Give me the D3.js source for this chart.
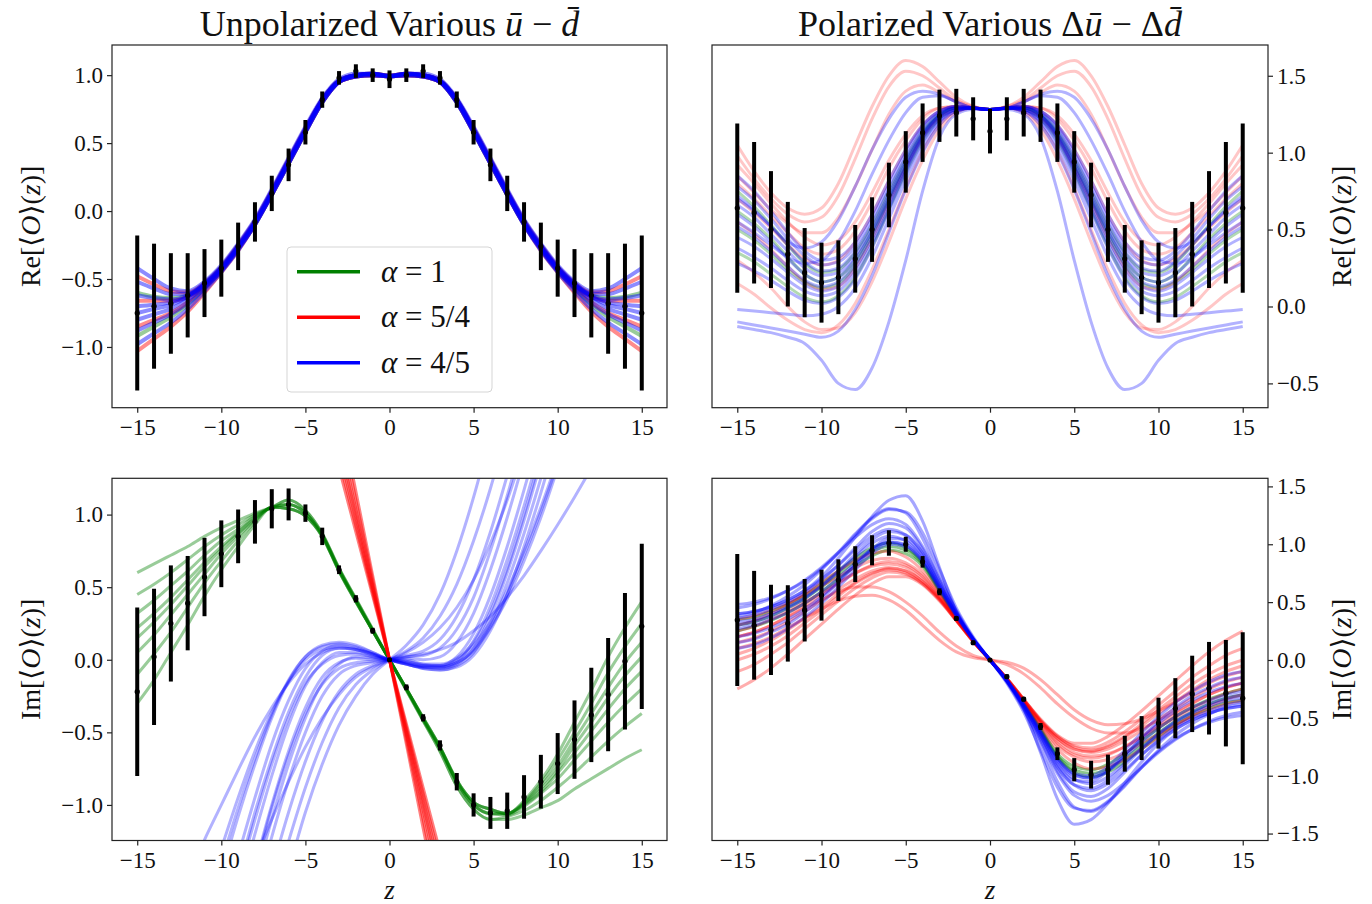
<!DOCTYPE html>
<html><head><meta charset="utf-8">
<script src="https://cdn.jsdelivr.net/npm/d3@7"></script>
<style>
body{margin:0;background:#fff;}
svg{display:block;}
</style></head><body>
<svg id="chart" width="1372" height="904"></svg>
<script>
const n = null;
const zValues = [-15,-14,-13,-12,-11,-10,-9,-8,-7,-6,-5,-4,-3,-2,-1,0,1,2,3,4,5,6,7,8,9,10,11,12,13,14,15];
const zRedSteep = [-4,-3,-2,-1,0,1,2,3,4];
const xTickValues = [-15,-10,-5,0,5,10,15];
const yTicksReUnpol = [-1.0,-0.5,0.0,0.5,1.0];
const yTicksRePol = [-0.5,0.0,0.5,1.0,1.5];
const yTicksImUnpol = [-1.0,-0.5,0.0,0.5,1.0];
const yTicksImPol = [-1.5,-1.0,-0.5,0.0,0.5,1.0,1.5];
const legendLabels = ["1","5/4","4/5"];

// ---------- Top-left: Re, unpolarized ----------
const reUnpolCenter = [-0.75,-0.70,-0.68,-0.62,-0.53,-0.42,-0.26,-0.08,0.13,0.34,0.58,0.82,0.98,1.03,1.00,0.97,1.00,1.03,0.98,0.82,0.58,0.34,0.13,-0.08,-0.26,-0.42,-0.53,-0.62,-0.68,-0.70,-0.75];
const reUnpolErr = [0.57,0.46,0.37,0.31,0.25,0.21,0.175,0.145,0.13,0.12,0.09,0.06,0.05,0.05,0.05,0.065,0.05,0.05,0.05,0.06,0.09,0.12,0.13,0.145,0.175,0.21,0.25,0.31,0.37,0.46,0.57];
const reUnpolGreen = [
[-0.60,-0.63,-0.64,-0.62,-0.54,-0.42,-0.26,-0.08,0.14,0.37,0.60,0.82,0.96,1.00,1.01,0.995,1.01,1.00,0.96,0.82,0.60,0.37,0.14,-0.08,-0.26,-0.42,-0.54,-0.62,-0.64,-0.63,-0.60],
[-0.92,-0.85,-0.78,-0.69,-0.57,-0.44,-0.28,-0.10,0.12,0.35,0.58,0.80,0.95,0.99,1.00,0.99,1.00,0.99,0.95,0.80,0.58,0.35,0.12,-0.10,-0.28,-0.44,-0.57,-0.69,-0.78,-0.85,-0.92]];
const reUnpolRed = [
[-0.48,-0.54,-0.59,-0.60,-0.53,-0.41,-0.25,-0.07,0.15,0.38,0.61,0.82,0.96,1.00,1.01,0.995,1.01,1.00,0.96,0.82,0.61,0.38,0.15,-0.07,-0.25,-0.41,-0.53,-0.60,-0.59,-0.54,-0.48],
[-0.66,-0.66,-0.66,-0.63,-0.55,-0.42,-0.26,-0.08,0.14,0.37,0.60,0.82,0.96,1.00,1.01,0.995,1.01,1.00,0.96,0.82,0.60,0.37,0.14,-0.08,-0.26,-0.42,-0.55,-0.63,-0.66,-0.66,-0.66],
[-0.85,-0.80,-0.75,-0.67,-0.56,-0.43,-0.27,-0.09,0.13,0.36,0.59,0.81,0.95,0.99,1.00,0.99,1.00,0.99,0.95,0.81,0.59,0.36,0.13,-0.09,-0.27,-0.43,-0.56,-0.67,-0.75,-0.80,-0.85],
[-1.03,-0.94,-0.85,-0.74,-0.60,-0.45,-0.29,-0.10,0.12,0.35,0.58,0.80,0.95,0.99,1.00,0.99,1.00,0.99,0.95,0.80,0.58,0.35,0.12,-0.10,-0.29,-0.45,-0.60,-0.74,-0.85,-0.94,-1.03]];
const reUnpolBlue = [
[-0.42,-0.50,-0.57,-0.59,-0.52,-0.40,-0.24,-0.06,0.16,0.39,0.62,0.83,0.97,1.01,1.01,0.995,1.01,1.01,0.97,0.83,0.62,0.39,0.16,-0.06,-0.24,-0.40,-0.52,-0.59,-0.57,-0.50,-0.42],
[-0.52,-0.57,-0.61,-0.61,-0.53,-0.41,-0.25,-0.07,0.15,0.38,0.61,0.82,0.96,1.00,1.01,0.995,1.01,1.00,0.96,0.82,0.61,0.38,0.15,-0.07,-0.25,-0.41,-0.53,-0.61,-0.61,-0.57,-0.52],
[-0.62,-0.64,-0.65,-0.62,-0.54,-0.42,-0.26,-0.08,0.14,0.37,0.60,0.82,0.96,1.00,1.01,0.99,1.01,1.00,0.96,0.82,0.60,0.37,0.14,-0.08,-0.26,-0.42,-0.54,-0.62,-0.65,-0.64,-0.62],
[-0.70,-0.69,-0.67,-0.63,-0.55,-0.43,-0.27,-0.09,0.13,0.36,0.59,0.81,0.95,1.00,1.01,0.99,1.01,1.00,0.95,0.81,0.59,0.36,0.13,-0.09,-0.27,-0.43,-0.55,-0.63,-0.67,-0.69,-0.70],
[-0.75,-0.72,-0.69,-0.63,-0.54,-0.42,-0.26,-0.08,0.14,0.37,0.60,0.82,0.96,1.00,1.01,0.995,1.01,1.00,0.96,0.82,0.60,0.37,0.14,-0.08,-0.26,-0.42,-0.54,-0.63,-0.69,-0.72,-0.75],
[-0.80,-0.76,-0.72,-0.65,-0.56,-0.44,-0.28,-0.10,0.12,0.35,0.58,0.80,0.95,0.99,1.00,0.99,1.00,0.99,0.95,0.80,0.58,0.35,0.12,-0.10,-0.28,-0.44,-0.56,-0.65,-0.72,-0.76,-0.80],
[-0.88,-0.82,-0.76,-0.68,-0.57,-0.44,-0.28,-0.10,0.12,0.35,0.58,0.80,0.95,0.99,1.00,0.99,1.00,0.99,0.95,0.80,0.58,0.35,0.12,-0.10,-0.28,-0.44,-0.57,-0.68,-0.76,-0.82,-0.88],
[-0.98,-0.90,-0.82,-0.72,-0.59,-0.45,-0.29,-0.10,0.12,0.35,0.58,0.80,0.95,0.99,1.00,0.99,1.00,0.99,0.95,0.80,0.58,0.35,0.12,-0.10,-0.29,-0.45,-0.59,-0.72,-0.82,-0.90,-0.98]];

// ---------- Top-right: Re, polarized ----------
const rePolCenter = [0.64,0.61,0.50,0.34,0.22,0.155,0.19,0.31,0.50,0.725,0.94,1.13,1.24,1.26,1.22,1.14,1.22,1.26,1.24,1.13,0.94,0.725,0.50,0.31,0.19,0.155,0.22,0.34,0.50,0.61,0.64];
const rePolErr = [0.55,0.46,0.38,0.34,0.29,0.26,0.24,0.22,0.21,0.21,0.20,0.19,0.17,0.155,0.14,0.145,0.14,0.155,0.17,0.19,0.20,0.21,0.21,0.22,0.24,0.26,0.29,0.34,0.38,0.46,0.55];
const rePolGreen = [
[0.75,0.65,0.53,0.40,0.28,0.22,0.24,0.35,0.53,0.75,0.96,1.14,1.25,1.29,1.29,1.28,1.29,1.29,1.25,1.14,0.96,0.75,0.53,0.35,0.24,0.22,0.28,0.40,0.53,0.65,0.75],
[0.62,0.54,0.44,0.32,0.21,0.16,0.19,0.30,0.49,0.71,0.93,1.12,1.24,1.29,1.29,1.28,1.29,1.29,1.24,1.12,0.93,0.71,0.49,0.30,0.19,0.16,0.21,0.32,0.44,0.54,0.62],
[0.50,0.43,0.34,0.24,0.16,0.12,0.15,0.27,0.46,0.69,0.91,1.11,1.24,1.29,1.29,1.28,1.29,1.29,1.24,1.11,0.91,0.69,0.46,0.27,0.15,0.12,0.16,0.24,0.34,0.43,0.50],
[0.35,0.29,0.21,0.13,0.06,0.03,0.07,0.19,0.39,0.63,0.87,1.08,1.22,1.28,1.29,1.28,1.29,1.28,1.22,1.08,0.87,0.63,0.39,0.19,0.07,0.03,0.06,0.13,0.21,0.29,0.35]];
const rePolRed = [
[1.05,0.88,0.74,0.64,0.60,0.64,0.80,1.05,1.30,1.50,1.60,1.56,1.46,1.36,1.30,1.28,1.30,1.36,1.46,1.56,1.60,1.50,1.30,1.05,0.80,0.64,0.60,0.64,0.74,0.88,1.05],
[0.98,0.83,0.70,0.60,0.55,0.58,0.72,0.96,1.22,1.43,1.53,1.50,1.42,1.34,1.30,1.28,1.30,1.34,1.42,1.50,1.53,1.43,1.22,0.96,0.72,0.58,0.55,0.60,0.70,0.83,0.98],
[0.85,0.74,0.63,0.54,0.48,0.48,0.58,0.78,1.02,1.25,1.40,1.44,1.39,1.33,1.29,1.28,1.29,1.33,1.39,1.44,1.40,1.25,1.02,0.78,0.58,0.48,0.48,0.54,0.63,0.74,0.85],
[0.92,0.80,0.67,0.55,0.45,0.40,0.43,0.55,0.74,0.95,1.12,1.24,1.29,1.30,1.29,1.28,1.29,1.30,1.29,1.24,1.12,0.95,0.74,0.55,0.43,0.40,0.45,0.55,0.67,0.80,0.92],
[0.80,0.70,0.59,0.48,0.38,0.34,0.37,0.49,0.68,0.90,1.08,1.22,1.29,1.30,1.29,1.28,1.29,1.30,1.29,1.22,1.08,0.90,0.68,0.49,0.37,0.34,0.38,0.48,0.59,0.70,0.80],
[0.70,0.61,0.51,0.40,0.31,0.27,0.30,0.42,0.60,0.82,1.02,1.18,1.27,1.30,1.29,1.28,1.29,1.30,1.27,1.18,1.02,0.82,0.60,0.42,0.30,0.27,0.31,0.40,0.51,0.61,0.70],
[0.55,0.47,0.37,0.26,0.16,0.11,0.13,0.25,0.44,0.67,0.90,1.10,1.23,1.28,1.29,1.28,1.29,1.28,1.23,1.10,0.90,0.67,0.44,0.25,0.13,0.11,0.16,0.26,0.37,0.47,0.55],
[0.30,0.22,0.12,0.00,-0.10,-0.15,-0.14,-0.04,0.16,0.42,0.70,0.95,1.15,1.26,1.29,1.28,1.29,1.26,1.15,0.95,0.70,0.42,0.16,-0.04,-0.14,-0.15,-0.10,0.00,0.12,0.22,0.30],
[0.15,0.08,-0.01,-0.09,-0.15,-0.17,-0.12,0.02,0.24,0.50,0.77,1.01,1.18,1.27,1.29,1.28,1.29,1.27,1.18,1.01,0.77,0.50,0.24,0.02,-0.12,-0.17,-0.15,-0.09,-0.01,0.08,0.15]];
const rePolBlue = [
[0.85,0.75,0.62,0.48,0.36,0.30,0.32,0.42,0.60,0.82,1.02,1.18,1.27,1.30,1.29,1.28,1.29,1.30,1.27,1.18,1.02,0.82,0.60,0.42,0.32,0.30,0.36,0.48,0.62,0.75,0.85],
[0.78,0.69,0.57,0.44,0.33,0.27,0.29,0.39,0.57,0.79,1.00,1.17,1.27,1.30,1.29,1.28,1.29,1.30,1.27,1.17,1.00,0.79,0.57,0.39,0.29,0.27,0.33,0.44,0.57,0.69,0.78],
[0.72,0.63,0.52,0.40,0.29,0.23,0.25,0.36,0.54,0.76,0.97,1.15,1.26,1.30,1.29,1.28,1.29,1.30,1.26,1.15,0.97,0.76,0.54,0.36,0.25,0.23,0.29,0.40,0.52,0.63,0.72],
[0.66,0.58,0.47,0.36,0.25,0.20,0.22,0.33,0.51,0.73,0.95,1.13,1.25,1.29,1.29,1.28,1.29,1.29,1.25,1.13,0.95,0.73,0.51,0.33,0.22,0.20,0.25,0.36,0.47,0.58,0.66],
[0.60,0.52,0.42,0.31,0.21,0.16,0.19,0.31,0.49,0.71,0.93,1.12,1.24,1.29,1.29,1.28,1.29,1.29,1.24,1.12,0.93,0.71,0.49,0.31,0.19,0.16,0.21,0.31,0.42,0.52,0.60],
[0.52,0.45,0.36,0.26,0.17,0.13,0.16,0.28,0.47,0.69,0.91,1.11,1.24,1.29,1.29,1.28,1.29,1.29,1.24,1.11,0.91,0.69,0.47,0.28,0.16,0.13,0.17,0.26,0.36,0.45,0.52],
[0.45,0.39,0.31,0.22,0.14,0.10,0.13,0.25,0.44,0.67,0.90,1.10,1.23,1.28,1.29,1.28,1.29,1.28,1.23,1.10,0.90,0.67,0.44,0.25,0.13,0.10,0.14,0.22,0.31,0.39,0.45],
[0.38,0.32,0.25,0.17,0.10,0.07,0.10,0.22,0.41,0.64,0.88,1.09,1.22,1.28,1.29,1.28,1.29,1.28,1.22,1.09,0.88,0.64,0.41,0.22,0.10,0.07,0.10,0.17,0.25,0.32,0.38],
[0.28,0.23,0.17,0.10,0.04,0.02,0.06,0.18,0.38,0.62,0.86,1.07,1.21,1.28,1.29,1.28,1.29,1.28,1.21,1.07,0.86,0.62,0.38,0.18,0.06,0.02,0.04,0.10,0.17,0.23,0.28],
[-0.02,-0.03,-0.04,-0.05,-0.06,-0.05,0.00,0.12,0.32,0.57,0.82,1.04,1.20,1.27,1.29,1.28,1.29,1.27,1.20,1.04,0.82,0.57,0.32,0.12,0.00,-0.05,-0.06,-0.05,-0.04,-0.03,-0.02],
[-0.10,-0.12,-0.14,-0.16,-0.18,-0.20,-0.16,-0.02,0.20,0.48,0.76,1.00,1.18,1.27,1.29,1.28,1.29,1.27,1.18,1.00,0.76,0.48,0.20,-0.02,-0.16,-0.20,-0.18,-0.16,-0.14,-0.12,-0.10],
[-0.13,-0.15,-0.17,-0.20,-0.24,-0.35,-0.50,-0.54,-0.40,-0.10,0.30,0.75,1.10,1.25,1.28,1.28,1.28,1.25,1.10,0.75,0.30,-0.10,-0.40,-0.54,-0.50,-0.35,-0.24,-0.20,-0.17,-0.15,-0.13],
[0.70,0.62,0.52,0.42,0.38,0.42,0.56,0.78,1.02,1.22,1.36,1.40,1.38,1.33,1.29,1.28,1.29,1.33,1.38,1.40,1.36,1.22,1.02,0.78,0.56,0.42,0.38,0.42,0.52,0.62,0.70],
[0.55,0.48,0.40,0.32,0.28,0.30,0.42,0.62,0.86,1.08,1.26,1.36,1.37,1.33,1.29,1.28,1.29,1.33,1.37,1.36,1.26,1.08,0.86,0.62,0.42,0.30,0.28,0.32,0.40,0.48,0.55]];

// ---------- Bottom-left: Im, unpolarized ----------
const imUnpolCenter = [-0.22,0.02,0.25,0.39,0.57,0.73,0.85,0.95,1.04,1.07,1.01,0.85,0.62,0.42,0.20,0.00,-0.19,-0.40,-0.59,-0.84,-1.00,-1.055,-1.04,-0.945,-0.84,-0.715,-0.55,-0.38,-0.24,-0.01,0.23];
const imUnpolErr = [0.58,0.47,0.40,0.325,0.27,0.23,0.185,0.15,0.135,0.11,0.06,0.06,0.03,0.025,0.02,0.01,0.02,0.025,0.035,0.06,0.08,0.11,0.125,0.15,0.185,0.21,0.27,0.325,0.39,0.47,0.57];
const imUnpolGreen = [
[0.60,0.66,0.72,0.78,0.85,0.91,0.96,1.01,1.05,1.10,1.03,0.87,0.63,0.42,0.21,0,-0.21,-0.42,-0.63,-0.87,-1.03,-1.10,-1.10,-1.07,-1.02,-0.97,-0.89,-0.82,-0.75,-0.68,-0.62],
[0.45,0.52,0.60,0.69,0.78,0.86,0.93,1.00,1.05,1.10,1.03,0.87,0.63,0.42,0.21,0,-0.21,-0.42,-0.63,-0.87,-1.03,-1.10,-1.08,-1.04,-0.97,-0.88,-0.78,-0.67,-0.56,-0.46,-0.37],
[0.32,0.41,0.51,0.61,0.72,0.82,0.90,0.99,1.05,1.07,1.01,0.86,0.62,0.41,0.20,0,-0.20,-0.41,-0.61,-0.84,-1.00,-1.06,-1.07,-1.01,-0.92,-0.82,-0.69,-0.56,-0.43,-0.31,-0.20],
[0.22,0.32,0.43,0.55,0.67,0.78,0.88,0.98,1.05,1.07,1.01,0.86,0.62,0.41,0.20,0,-0.20,-0.41,-0.61,-0.84,-1.00,-1.06,-1.06,-1.00,-0.91,-0.78,-0.64,-0.49,-0.34,-0.20,-0.08],
[0.15,0.26,0.38,0.51,0.64,0.76,0.87,0.97,1.05,1.07,1.01,0.86,0.62,0.41,0.20,0,-0.20,-0.41,-0.61,-0.84,-1.00,-1.06,-1.06,-0.99,-0.89,-0.76,-0.59,-0.43,-0.26,-0.11,0.02],
[0.05,0.17,0.31,0.45,0.59,0.73,0.85,0.96,1.05,1.04,0.99,0.85,0.61,0.40,0.20,0,-0.20,-0.40,-0.60,-0.83,-0.98,-1.03,-1.06,-0.99,-0.87,-0.73,-0.55,-0.37,-0.19,-0.02,0.12],
[-0.10,0.04,0.19,0.36,0.53,0.68,0.82,0.95,1.05,1.04,0.99,0.85,0.61,0.40,0.20,0,-0.20,-0.40,-0.60,-0.83,-0.98,-1.03,-1.06,-0.98,-0.85,-0.69,-0.50,-0.30,-0.09,0.09,0.25],
[-0.30,-0.14,0.05,0.24,0.44,0.62,0.78,0.93,1.05,1.04,0.99,0.85,0.61,0.40,0.20,0,-0.20,-0.40,-0.60,-0.83,-0.98,-1.03,-1.06,-0.97,-0.83,-0.65,-0.43,-0.21,0.02,0.22,0.40]];
const imUnpolRed = [
[1.76,1.32,0.88,0.44,0,-0.44,-0.88,-1.32,-1.76],
[1.84,1.38,0.92,0.46,0,-0.46,-0.92,-1.38,-1.84],
[1.92,1.44,0.96,0.48,0,-0.48,-0.96,-1.44,-1.92],
[2.00,1.50,1.00,0.50,0,-0.50,-1.00,-1.50,-2.00],
[2.08,1.56,1.04,0.52,0,-0.52,-1.04,-1.56,-2.08],
[2.20,1.65,1.10,0.55,0,-0.55,-1.10,-1.65,-2.20],
[2.32,1.74,1.16,0.58,0,-0.58,-1.16,-1.74,-2.32]];
const imUnpolBlue = [
[n,n,n,n,n,n,n,n,n,-1.45,-1.05,-0.72,-0.45,-0.25,-0.10,0,0.10,0.24,0.45,0.75,1.12,1.55,n,n,n,n,n,n,n,n,n],
[n,n,n,n,n,n,n,n,-1.65,-1.25,-0.88,-0.57,-0.33,-0.17,-0.07,0,0.06,0.15,0.30,0.52,0.82,1.18,1.60,n,n,n,n,n,n,n,n],
[n,n,n,n,n,n,n,n,-1.45,-1.05,-0.70,-0.42,-0.22,-0.10,-0.04,0,0.03,0.06,0.14,0.30,0.55,0.88,1.27,n,n,n,n,n,n,n,n],
[n,n,n,n,n,n,n,-1.45,-1.02,-0.66,-0.37,-0.17,-0.06,-0.02,-0.01,0,0.02,0.03,0.08,0.21,0.43,0.75,1.13,1.55,n,n,n,n,n,n,n],
[n,n,n,n,n,n,n,-1.65,-1.22,-0.83,-0.50,-0.25,-0.10,-0.04,-0.02,0,0.01,0.00,0.02,0.12,0.32,0.62,0.98,1.38,n,n,n,n,n,n,n],
[n,n,n,n,n,n,n,-1.42,-1.00,-0.63,-0.33,-0.12,-0.02,0.01,0.00,0,0.00,-0.03,-0.04,0.02,0.18,0.44,0.78,1.17,1.58,n,n,n,n,n,n],
[n,n,n,n,n,n,n,-1.52,-1.10,-0.72,-0.40,-0.16,-0.03,0.02,0.01,0,-0.01,-0.04,-0.05,-0.01,0.13,0.37,0.69,1.06,1.46,n,n,n,n,n,n],
[n,n,n,n,n,n,-1.62,-1.20,-0.80,-0.45,-0.18,-0.02,0.05,0.05,0.02,0,-0.02,-0.05,-0.06,-0.03,0.08,0.30,0.60,0.96,1.36,n,n,n,n,n,n],
[n,n,n,n,n,n,-1.48,-1.05,-0.68,-0.36,-0.12,0.03,0.08,0.07,0.03,0,-0.03,-0.06,-0.07,-0.04,0.05,0.25,0.53,0.87,1.25,n,n,n,n,n,n],
[n,n,n,n,n,n,-1.35,-0.95,-0.58,-0.28,-0.06,0.06,0.10,0.08,0.04,0,-0.03,-0.06,-0.07,-0.05,0.03,0.20,0.45,0.78,1.15,1.55,n,n,n,n,n],
[n,n,n,n,n,-1.40,-1.02,-0.68,-0.38,-0.14,0.02,0.09,0.11,0.09,0.05,0,-0.03,-0.05,-0.05,-0.02,0.07,0.23,0.45,0.72,1.02,1.35,n,n,n,n,n],
[n,n,n,n,n,-1.48,-1.08,-0.72,-0.40,-0.15,0.02,0.10,0.12,0.10,0.05,0,-0.02,-0.04,-0.04,0.00,0.10,0.26,0.48,0.75,1.05,1.38,n,n,n,n,n],
[n,n,n,-1.50,-1.24,-1.00,-0.76,-0.53,-0.33,-0.16,-0.03,0.05,0.08,0.07,0.04,0,0.02,0.04,0.07,0.12,0.20,0.30,0.43,0.58,0.75,0.93,1.12,1.32,n,n,n],
[n,n,n,n,n,n,n,-1.38,-1.10,-0.84,-0.60,-0.40,-0.24,-0.12,-0.05,0,0.05,0.12,0.22,0.36,0.55,0.80,1.10,1.45,n,n,n,n,n,n,n],
[n,n,n,n,n,n,-1.50,-1.10,-0.72,-0.40,-0.16,-0.03,0.03,0.04,0.02,0,-0.01,-0.03,-0.03,0.01,0.12,0.33,0.63,1.00,1.40,n,n,n,n,n,n],
[n,n,n,n,n,-1.30,-0.95,-0.63,-0.36,-0.15,0.00,0.07,0.09,0.07,0.04,0,-0.03,-0.05,-0.05,-0.02,0.06,0.22,0.42,0.68,0.98,1.32,n,n,n,n,n]];

// ---------- Bottom-right: Im, polarized ----------
const imPolCenter = [0.345,0.30,0.26,0.316,0.43,0.56,0.69,0.828,0.948,1.011,1.0,0.848,0.589,0.359,0.149,0.0,-0.144,-0.339,-0.575,-0.81,-0.948,-0.991,-0.948,-0.81,-0.675,-0.546,-0.417,-0.293,-0.244,-0.287,-0.33];
const imPolErr = [0.57,0.47,0.39,0.33,0.27,0.22,0.18,0.155,0.13,0.11,0.065,0.05,0.03,0.02,0.02,0.01,0.02,0.02,0.03,0.055,0.10,0.12,0.13,0.155,0.19,0.22,0.26,0.33,0.40,0.46,0.57];
const imPolGreen = [
[0.30,0.33,0.38,0.45,0.53,0.63,0.74,0.85,0.94,0.98,0.95,0.83,0.60,0.37,0.17,0,-0.17,-0.37,-0.60,-0.83,-0.95,-0.98,-0.94,-0.85,-0.74,-0.63,-0.53,-0.45,-0.38,-0.33,-0.30],
[0.25,0.29,0.34,0.41,0.49,0.59,0.70,0.81,0.90,0.95,0.92,0.81,0.59,0.36,0.17,0,-0.17,-0.36,-0.59,-0.81,-0.92,-0.95,-0.90,-0.81,-0.70,-0.59,-0.49,-0.41,-0.34,-0.29,-0.25],
[0.35,0.37,0.42,0.48,0.56,0.66,0.77,0.88,0.97,1.01,0.97,0.84,0.61,0.37,0.17,0,-0.17,-0.37,-0.61,-0.84,-0.97,-1.01,-0.97,-0.88,-0.77,-0.66,-0.56,-0.48,-0.42,-0.37,-0.35]];
const imPolRed = [
[0.35,0.38,0.43,0.49,0.56,0.64,0.72,0.80,0.86,0.88,0.84,0.74,0.56,0.36,0.17,0,-0.17,-0.36,-0.56,-0.74,-0.84,-0.88,-0.86,-0.80,-0.72,-0.64,-0.56,-0.49,-0.43,-0.38,-0.35],
[0.25,0.29,0.35,0.42,0.50,0.58,0.67,0.75,0.81,0.83,0.80,0.70,0.54,0.35,0.17,0,-0.17,-0.35,-0.54,-0.70,-0.80,-0.83,-0.81,-0.75,-0.67,-0.58,-0.50,-0.42,-0.35,-0.29,-0.25],
[0.20,0.24,0.30,0.38,0.47,0.56,0.66,0.75,0.82,0.85,0.82,0.72,0.55,0.35,0.17,0,-0.17,-0.35,-0.55,-0.72,-0.82,-0.85,-0.82,-0.75,-0.66,-0.56,-0.47,-0.38,-0.30,-0.24,-0.20],
[0.15,0.19,0.25,0.33,0.42,0.51,0.61,0.70,0.77,0.80,0.77,0.68,0.53,0.34,0.16,0,-0.16,-0.34,-0.53,-0.68,-0.77,-0.80,-0.77,-0.70,-0.61,-0.51,-0.42,-0.33,-0.25,-0.19,-0.15],
[0.05,0.10,0.17,0.26,0.36,0.46,0.57,0.67,0.75,0.78,0.75,0.66,0.52,0.34,0.16,0,-0.16,-0.34,-0.52,-0.66,-0.75,-0.78,-0.75,-0.67,-0.57,-0.46,-0.36,-0.26,-0.17,-0.10,-0.05],
[0.00,0.05,0.12,0.21,0.32,0.43,0.55,0.66,0.74,0.79,0.77,0.68,0.53,0.35,0.16,0,-0.16,-0.35,-0.53,-0.68,-0.77,-0.79,-0.74,-0.66,-0.55,-0.43,-0.32,-0.21,-0.12,-0.05,0.00],
[-0.10,-0.04,0.05,0.15,0.27,0.39,0.51,0.62,0.71,0.76,0.74,0.66,0.52,0.34,0.16,0,-0.16,-0.34,-0.52,-0.66,-0.74,-0.76,-0.71,-0.62,-0.51,-0.39,-0.27,-0.15,-0.05,0.04,0.10],
[-0.25,-0.17,-0.07,0.05,0.18,0.31,0.44,0.56,0.66,0.72,0.72,0.65,0.51,0.34,0.16,0,-0.16,-0.34,-0.51,-0.65,-0.72,-0.72,-0.66,-0.56,-0.44,-0.31,-0.18,-0.05,0.07,0.17,0.25],
[0.10,0.14,0.20,0.28,0.36,0.44,0.51,0.55,0.56,0.52,0.43,0.30,0.17,0.07,0.02,0,-0.02,-0.07,-0.17,-0.30,-0.43,-0.52,-0.56,-0.55,-0.51,-0.44,-0.36,-0.28,-0.20,-0.14,-0.10],
[0.20,0.24,0.30,0.37,0.45,0.52,0.59,0.63,0.63,0.59,0.50,0.38,0.24,0.12,0.04,0,-0.04,-0.12,-0.24,-0.38,-0.50,-0.59,-0.63,-0.63,-0.59,-0.52,-0.45,-0.37,-0.30,-0.24,-0.20],
[0.30,0.34,0.40,0.48,0.57,0.67,0.77,0.86,0.92,0.94,0.89,0.77,0.58,0.37,0.17,0,-0.17,-0.37,-0.58,-0.77,-0.89,-0.94,-0.92,-0.86,-0.77,-0.67,-0.57,-0.48,-0.40,-0.34,-0.30]];
const imPolBlue = [
[0.48,0.50,0.54,0.60,0.68,0.79,0.92,1.08,1.22,1.30,1.28,1.10,0.78,0.45,0.20,0,-0.20,-0.45,-0.78,-1.10,-1.28,-1.30,-1.22,-1.08,-0.92,-0.79,-0.68,-0.60,-0.54,-0.50,-0.48],
[0.40,0.42,0.46,0.52,0.60,0.72,0.88,1.06,1.24,1.38,1.42,1.20,0.80,0.42,0.18,0,-0.18,-0.42,-0.80,-1.20,-1.42,-1.38,-1.24,-1.06,-0.88,-0.72,-0.60,-0.52,-0.46,-0.42,-0.40],
[0.40,0.42,0.46,0.52,0.60,0.70,0.82,0.95,1.07,1.13,1.08,0.92,0.65,0.40,0.18,0,-0.18,-0.40,-0.65,-0.92,-1.08,-1.13,-1.07,-0.95,-0.82,-0.70,-0.60,-0.52,-0.46,-0.42,-0.40],
[0.36,0.39,0.44,0.50,0.58,0.69,0.82,0.97,1.11,1.18,1.14,0.96,0.68,0.41,0.18,0,-0.18,-0.41,-0.68,-0.96,-1.14,-1.18,-1.11,-0.97,-0.82,-0.69,-0.58,-0.50,-0.44,-0.39,-0.36],
[0.33,0.35,0.40,0.46,0.54,0.64,0.76,0.89,1.01,1.07,1.03,0.88,0.63,0.39,0.18,0,-0.18,-0.39,-0.63,-0.88,-1.03,-1.07,-1.01,-0.89,-0.76,-0.64,-0.54,-0.46,-0.40,-0.35,-0.33],
[0.30,0.33,0.38,0.45,0.53,0.64,0.77,0.91,1.04,1.11,1.08,0.93,0.66,0.40,0.18,0,-0.18,-0.40,-0.66,-0.93,-1.08,-1.11,-1.04,-0.91,-0.77,-0.64,-0.53,-0.45,-0.38,-0.33,-0.30],
[0.27,0.30,0.35,0.41,0.49,0.59,0.71,0.84,0.96,1.02,0.99,0.85,0.61,0.38,0.17,0,-0.17,-0.38,-0.61,-0.85,-0.99,-1.02,-0.96,-0.84,-0.71,-0.59,-0.49,-0.41,-0.35,-0.30,-0.27],
[0.20,0.23,0.28,0.35,0.44,0.55,0.68,0.82,0.95,1.02,1.00,0.87,0.63,0.39,0.18,0,-0.18,-0.39,-0.63,-0.87,-1.00,-1.02,-0.95,-0.82,-0.68,-0.55,-0.44,-0.35,-0.28,-0.23,-0.20],
[0.15,0.18,0.24,0.31,0.41,0.53,0.67,0.82,0.96,1.05,1.04,0.90,0.65,0.40,0.18,0,-0.18,-0.40,-0.65,-0.90,-1.04,-1.05,-0.96,-0.82,-0.67,-0.53,-0.41,-0.31,-0.24,-0.18,-0.15],
[0.45,0.48,0.53,0.60,0.69,0.80,0.93,1.06,1.17,1.22,1.17,0.98,0.70,0.43,0.19,0,-0.19,-0.43,-0.70,-0.98,-1.17,-1.22,-1.17,-1.06,-0.93,-0.80,-0.69,-0.60,-0.53,-0.48,-0.45],
[0.10,0.13,0.19,0.27,0.37,0.49,0.63,0.78,0.92,1.00,0.98,0.85,0.62,0.38,0.17,0,-0.17,-0.38,-0.62,-0.85,-0.98,-1.00,-0.92,-0.78,-0.63,-0.49,-0.37,-0.27,-0.19,-0.13,-0.10],
[0.38,0.41,0.47,0.55,0.65,0.78,0.93,1.09,1.23,1.31,1.27,1.05,0.72,0.42,0.19,0,-0.19,-0.42,-0.72,-1.05,-1.27,-1.31,-1.23,-1.09,-0.93,-0.78,-0.65,-0.55,-0.47,-0.41,-0.38]];

// ---------- drawing ----------
const GREEN = "#008000", RED = "#ff0000", BLUE = "#0000ff";
const panels = [
  {x0:112, x1:667, y0:45, y1:407.7, yDomain:[-1.447,1.222], yTicks:yTicksReUnpol, side:"left", part:"Re", sw:4,
   center:reUnpolCenter, err:reUnpolErr,
   series:[{color:GREEN,alpha:0.4,z:zValues,lines:reUnpolGreen},{color:RED,alpha:0.45,z:zValues,lines:reUnpolRed},{color:BLUE,alpha:0.45,z:zValues,lines:reUnpolBlue}]},
  {x0:712, x1:1268, y0:45, y1:407.7, yDomain:[-0.658,1.70], yTicks:yTicksRePol, side:"right", part:"Re", sw:3,
   center:rePolCenter, err:rePolErr,
   series:[{color:GREEN,alpha:0.3,z:zValues,lines:rePolGreen},{color:RED,alpha:0.22,z:zValues,lines:rePolRed},{color:BLUE,alpha:0.3,z:zValues,lines:rePolBlue}]},
  {x0:112, x1:667, y0:478.3, y1:840.5, yDomain:[-1.245,1.25], yTicks:yTicksImUnpol, side:"left", part:"Im", xlabel:true, sw:3,
   center:imUnpolCenter, err:imUnpolErr,
   series:[{color:GREEN,alpha:0.4,z:zValues,lines:imUnpolGreen},{color:RED,alpha:0.5,z:zRedSteep,lines:imUnpolRed},{color:BLUE,alpha:0.3,z:zValues,lines:imUnpolBlue}]},
  {x0:712, x1:1268, y0:478.3, y1:840.5, yDomain:[-1.56,1.57], yTicks:yTicksImPol, side:"right", part:"Im", xlabel:true, sw:3,
   center:imPolCenter, err:imPolErr,
   series:[{color:GREEN,alpha:0.45,z:zValues,lines:imPolGreen},{color:RED,alpha:0.32,z:zValues,lines:imPolRed},{color:BLUE,alpha:0.35,z:zValues,lines:imPolBlue}]}
];

const svg = d3.select("#chart");
const defs = svg.append("defs");
const FONT = "'Liberation Serif','DejaVu Serif',serif";

panels.forEach((p, i) => {
  const x = d3.scaleLinear().domain([-16.5, 16.5]).range([p.x0, p.x1]);
  const y = d3.scaleLinear().domain(p.yDomain).range([p.y1, p.y0]);
  const cid = "clip" + i;
  defs.append("clipPath").attr("id", cid).append("rect")
    .attr("x", p.x0).attr("y", p.y0).attr("width", p.x1 - p.x0).attr("height", p.y1 - p.y0);
  const g = svg.append("g");
  const plot = g.append("g").attr("clip-path", `url(#${cid})`);
  p.series.forEach(s => {
    const line = d3.line().defined(d => d[1] !== null).x(d => x(d[0])).y(d => y(d[1])).curve(d3.curveMonotoneX);
    plot.append("g").selectAll("path").data(s.lines).join("path")
      .attr("d", arr => line(s.z.map((zz, k) => [zz, arr[k]])))
      .attr("fill", "none").attr("stroke", s.color).attr("stroke-opacity", s.alpha)
      .attr("stroke-width", p.sw).attr("stroke-linejoin", "round");
  });
  const eb = g.append("g");
  eb.selectAll("line").data(zValues).join("line")
    .attr("x1", d => x(d)).attr("x2", d => x(d))
    .attr("y1", (d, k) => y(p.center[k] - p.err[k])).attr("y2", (d, k) => y(p.center[k] + p.err[k]))
    .attr("stroke", "#000").attr("stroke-width", 4);
  eb.selectAll("circle").data(zValues).join("circle")
    .attr("cx", d => x(d)).attr("cy", (d, k) => y(p.center[k])).attr("r", 2.6).attr("fill", "#000");

  g.append("rect").attr("x", p.x0).attr("y", p.y0).attr("width", p.x1 - p.x0).attr("height", p.y1 - p.y0)
    .attr("fill", "none").attr("stroke", "#222").attr("stroke-width", 1.2);

  const xa = g.append("g").attr("transform", `translate(0,${p.y1})`)
    .call(d3.axisBottom(x).tickValues(xTickValues).tickSize(5).tickPadding(6).tickFormat(d3.format("d")));
  const ya = g.append("g").attr("transform", `translate(${p.side === "left" ? p.x0 : p.x1},0)`)
    .call((p.side === "left" ? d3.axisLeft(y) : d3.axisRight(y)).tickValues(p.yTicks).tickSize(5).tickPadding(4).tickFormat(d3.format(".1f")));
  [xa, ya].forEach(a => {
    a.select(".domain").remove();
    a.attr("font-family", FONT).attr("font-size", 23);
    a.selectAll(".tick line").attr("stroke", "#222").attr("stroke-width", 1.2);
    a.selectAll(".tick text").attr("fill", "#111");
  });

  const lx = p.side === "left" ? 40 : 1351;
  const cy = (p.y0 + p.y1) / 2;
  const yl = g.append("text").attr("transform", `translate(${lx},${cy}) rotate(-90)`)
    .attr("text-anchor", "middle").attr("font-size", 28).attr("font-family", FONT).attr("fill", "#111");
  yl.append("tspan").text(p.part + "[\u27E8");
  yl.append("tspan").attr("font-style", "italic").text("O");
  yl.append("tspan").text("\u27E9(");
  yl.append("tspan").attr("font-style", "italic").text("z");
  yl.append("tspan").text(")]");

  if (p.xlabel) {
    g.append("text").attr("x", (p.x0 + p.x1) / 2).attr("y", 899).attr("text-anchor", "middle")
      .attr("font-size", 27).attr("font-style", "italic").attr("font-family", FONT).attr("fill", "#111").text("z");
  }
});

function title(cx, pre, delta) {
  const t = svg.append("text").attr("x", cx).attr("y", 36).attr("text-anchor", "middle")
    .attr("font-size", 36).attr("font-family", FONT).attr("fill", "#111");
  t.append("tspan").text(pre);
  if (delta) t.append("tspan").text("\u0394");
  t.append("tspan").attr("font-style", "italic").text("\u016B");
  t.append("tspan").text(" \u2212 ");
  if (delta) t.append("tspan").text("\u0394");
  t.append("tspan").attr("font-style", "italic").text("d\u0304");
}
title(389.5, "Unpolarized Various ", false);
title(990, "Polarized Various ", true);

const lg = svg.append("g");
lg.append("rect").attr("x", 287).attr("y", 247).attr("width", 205).attr("height", 145).attr("rx", 4)
  .attr("fill", "#fff").attr("fill-opacity", 0.85).attr("stroke", "#d5d5d5").attr("stroke-width", 1);
[GREEN, RED, BLUE].forEach((c, k) => {
  const yy = 271.7 + k * 45.5;
  lg.append("line").attr("x1", 297).attr("x2", 360).attr("y1", yy).attr("y2", yy)
    .attr("stroke", c).attr("stroke-width", 3.5);
  const t = lg.append("text").attr("x", 381).attr("y", yy + 10).attr("font-size", 31).attr("font-family", FONT).attr("fill", "#111");
  t.append("tspan").attr("font-style", "italic").text("\u03B1");
  t.append("tspan").text(" = " + legendLabels[k]);
});
</script>
</body></html>
